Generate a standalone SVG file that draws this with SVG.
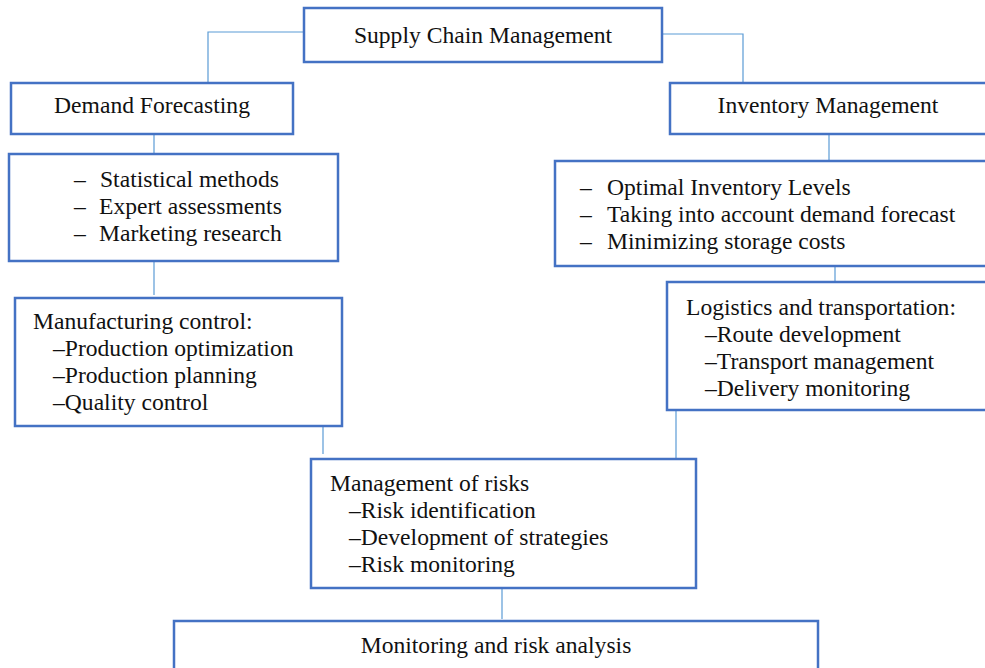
<svg xmlns="http://www.w3.org/2000/svg" width="985" height="668" viewBox="0 0 985 668">
<style>
.box{fill:#fff;stroke:#4472C4;stroke-width:2.5}
.conn{fill:none;stroke:#5B9BD5;stroke-width:1.2}
text{font-family:"Liberation Serif","Times New Roman",serif;font-size:23.6px;fill:#111}
.c{text-anchor:middle}
</style>
<rect width="985" height="668" fill="#fff"/>
<g id="connectors">
<polyline class="conn" points="304,32 208,32 208,83"/>
<polyline class="conn" points="662,34 743,34 743,85"/>
<line class="conn" x1="154" y1="134" x2="154" y2="153"/>
<line class="conn" x1="829" y1="134" x2="829" y2="160"/>
<line class="conn" x1="154" y1="261" x2="154" y2="295"/>
<line class="conn" x1="835" y1="266" x2="835" y2="282"/>
<line class="conn" x1="323" y1="421" x2="323" y2="454"/>
<line class="conn" x1="676" y1="410" x2="676" y2="458"/>
<line class="conn" x1="502" y1="588" x2="502" y2="619"/>
</g>
<g id="supply-chain">
<rect class="box" x="304" y="8" width="358" height="54"/>
<text class="c" x="483" y="43">Supply Chain Management</text>
</g>
<g id="demand-forecasting">
<rect class="box" x="11" y="83" width="282" height="51"/>
<text class="c" x="152" y="113">Demand Forecasting</text>
</g>
<g id="inventory-management">
<rect class="box" x="670" y="83" width="318" height="51"/>
<text class="c" x="828" y="113">Inventory Management</text>
</g>
<g id="demand-methods">
<rect class="box" x="9" y="154" width="329" height="107"/>
<text x="74" y="187">–</text><text x="100" y="187">Statistical methods</text>
<text x="74" y="214">–</text><text x="99" y="214">Expert assessments</text>
<text x="74" y="241">–</text><text x="99" y="241">Marketing research</text>
</g>
<g id="inventory-details">
<rect class="box" x="555" y="161" width="433" height="105"/>
<text x="580" y="195">–</text><text x="607" y="195">Optimal Inventory Levels</text>
<text x="580" y="222">–</text><text x="607" y="222">Taking into account demand forecast</text>
<text x="580" y="249">–</text><text x="607" y="249">Minimizing storage costs</text>
</g>
<g id="manufacturing-control">
<rect class="box" x="15" y="298" width="327" height="128"/>
<text x="33" y="329">Manufacturing control:</text>
<text x="53" y="356">–Production optimization</text>
<text x="53" y="383">–Production planning</text>
<text x="53" y="410">–Quality control</text>
</g>
<g id="logistics">
<rect class="box" x="667" y="282" width="321" height="128"/>
<text x="686" y="315">Logistics and transportation:</text>
<text x="705" y="342">–Route development</text>
<text x="705" y="369">–Transport management</text>
<text x="705" y="396">–Delivery monitoring</text>
</g>
<g id="risk-management">
<rect class="box" x="311" y="459" width="385" height="129"/>
<text x="330" y="491">Management of risks</text>
<text x="349" y="518">–Risk identification</text>
<text x="349" y="545">–Development of strategies</text>
<text x="349" y="572">–Risk monitoring</text>
</g>
<g id="monitoring-analysis">
<rect class="box" x="174" y="621" width="644" height="60"/>
<text class="c" x="496" y="653">Monitoring and risk analysis</text>
</g>
</svg>
